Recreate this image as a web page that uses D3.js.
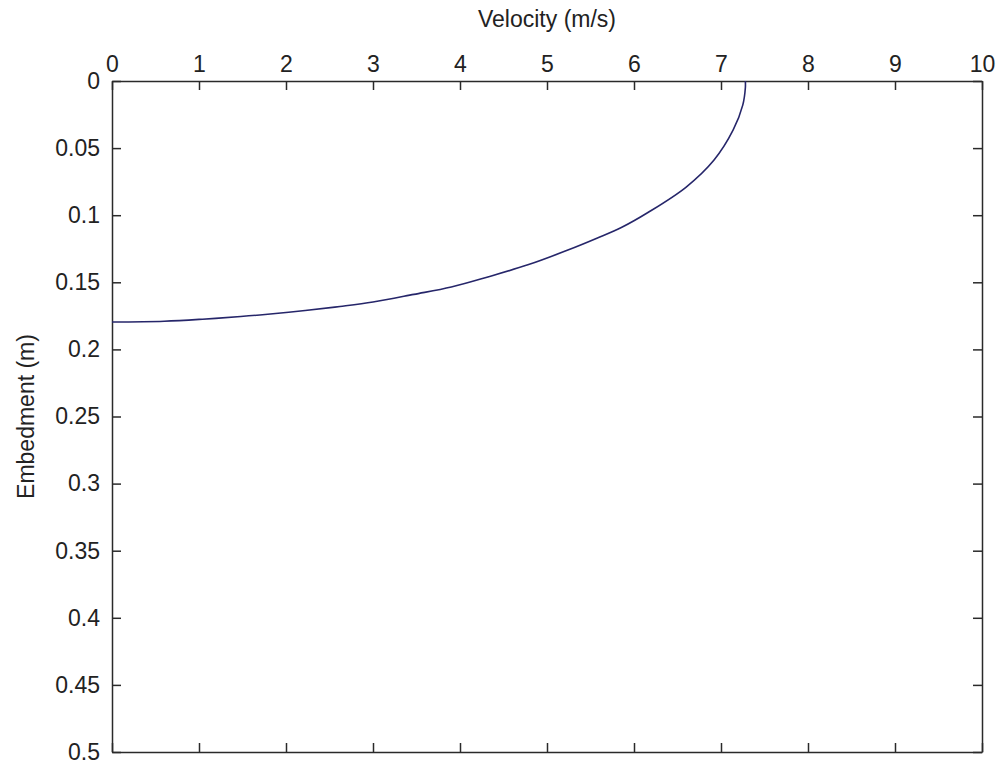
<!DOCTYPE html>
<html>
<head>
<meta charset="utf-8">
<script src="https://cdn.jsdelivr.net/npm/d3@7"></script>
<style>
  body { margin: 0; background: #fff; }
  text { font-family: "Liberation Sans", Arial, sans-serif; }
</style>
</head>
<body>
<div id="chart"></div>
<script>
// values
const embedment = [0, 0.005, 0.018, 0.0365, 0.0589, 0.079, 0.098, 0.109, 0.117, 0.126, 0.137,
  0.146, 0.1535, 0.159, 0.1647, 0.168, 0.171, 0.174, 0.1755, 0.1775, 0.179, 0.1796];
const velocity = [7.28, 7.28, 7.25, 7.14, 6.92, 6.60, 6.16, 5.86, 5.58, 5.24, 4.78,
  4.32, 3.90, 3.47, 3.00, 2.62, 2.22, 1.76, 1.48, 1.04, 0.60, 0.0];
const xTicks = [0, 1, 2, 3, 4, 5, 6, 7, 8, 9, 10];
const yTicks = [0, 0.05, 0.1, 0.15, 0.2, 0.25, 0.3, 0.35, 0.4, 0.45, 0.5];

let totalWidth = 997, totalHeight = 765;
let margin = { top: 81, right: 15, bottom: 13, left: 112 };

const points = embedment.map((d, i) => ({ d: d, v: velocity[i] }));

const svg = d3.select("#chart")
  .append("svg")
  .attr("width", totalWidth)
  .attr("height", totalHeight);

const x = d3.scaleLinear()
  .domain([0, 10])
  .range([margin.left, totalWidth - margin.right]);

const y = d3.scaleLinear()
  .domain([0, 0.5])
  .range([margin.top, totalHeight - margin.bottom]);

const axisColor = "#2a2a2a";
const fmt = d => String(+d.toFixed(2));

// top axis with labels
svg.append("g")
  .attr("transform", `translate(0, ${margin.top})`)
  .call(d3.axisTop(x).tickValues(xTicks).tickFormat(fmt).tickSizeInner(-9).tickSizeOuter(0).tickPadding(9));

// left axis with labels
svg.append("g")
  .attr("transform", `translate(${margin.left}, 0)`)
  .call(d3.axisLeft(y).tickValues(yTicks).tickFormat(fmt).tickSizeInner(-9).tickSizeOuter(0).tickPadding(12));

// bottom and right: ticks only (box)
svg.append("g")
  .attr("transform", `translate(0, ${totalHeight - margin.bottom})`)
  .call(d3.axisBottom(x).tickValues(xTicks).tickFormat("").tickSizeInner(-9).tickSizeOuter(0));

svg.append("g")
  .attr("transform", `translate(${totalWidth - margin.right}, 0)`)
  .call(d3.axisRight(y).tickValues(yTicks).tickFormat("").tickSizeInner(-9).tickSizeOuter(0));

svg.selectAll(".domain, .tick line")
  .attr("stroke", axisColor)
  .attr("stroke-width", 1.5);

svg.selectAll(".tick text")
  .attr("fill", "#222")
  .attr("font-size", "23px")
  .style("font-family", "'Liberation Sans', Arial, sans-serif");

// the curve
const line = d3.line()
  .x(p => x(p.v))
  .y(p => y(p.d))
  .curve(d3.curveCatmullRom.alpha(0.5));

svg.append("path")
  .datum(points)
  .attr("d", line)
  .attr("fill", "none")
  .attr("stroke", "#26266a")
  .attr("stroke-width", 1.6);

// axis titles
svg.append("text")
  .attr("x", (margin.left + totalWidth - margin.right) / 2)
  .attr("y", 27)
  .attr("text-anchor", "middle")
  .attr("font-size", "23px")
  .attr("fill", "#222")
  .text("Velocity (m/s)");

svg.append("text")
  .attr("transform", `translate(34, ${(margin.top + totalHeight - margin.bottom) / 2}) rotate(-90)`)
  .attr("text-anchor", "middle")
  .attr("font-size", "23px")
  .attr("fill", "#222")
  .text("Embedment (m)");
</script>
</body>
</html>
